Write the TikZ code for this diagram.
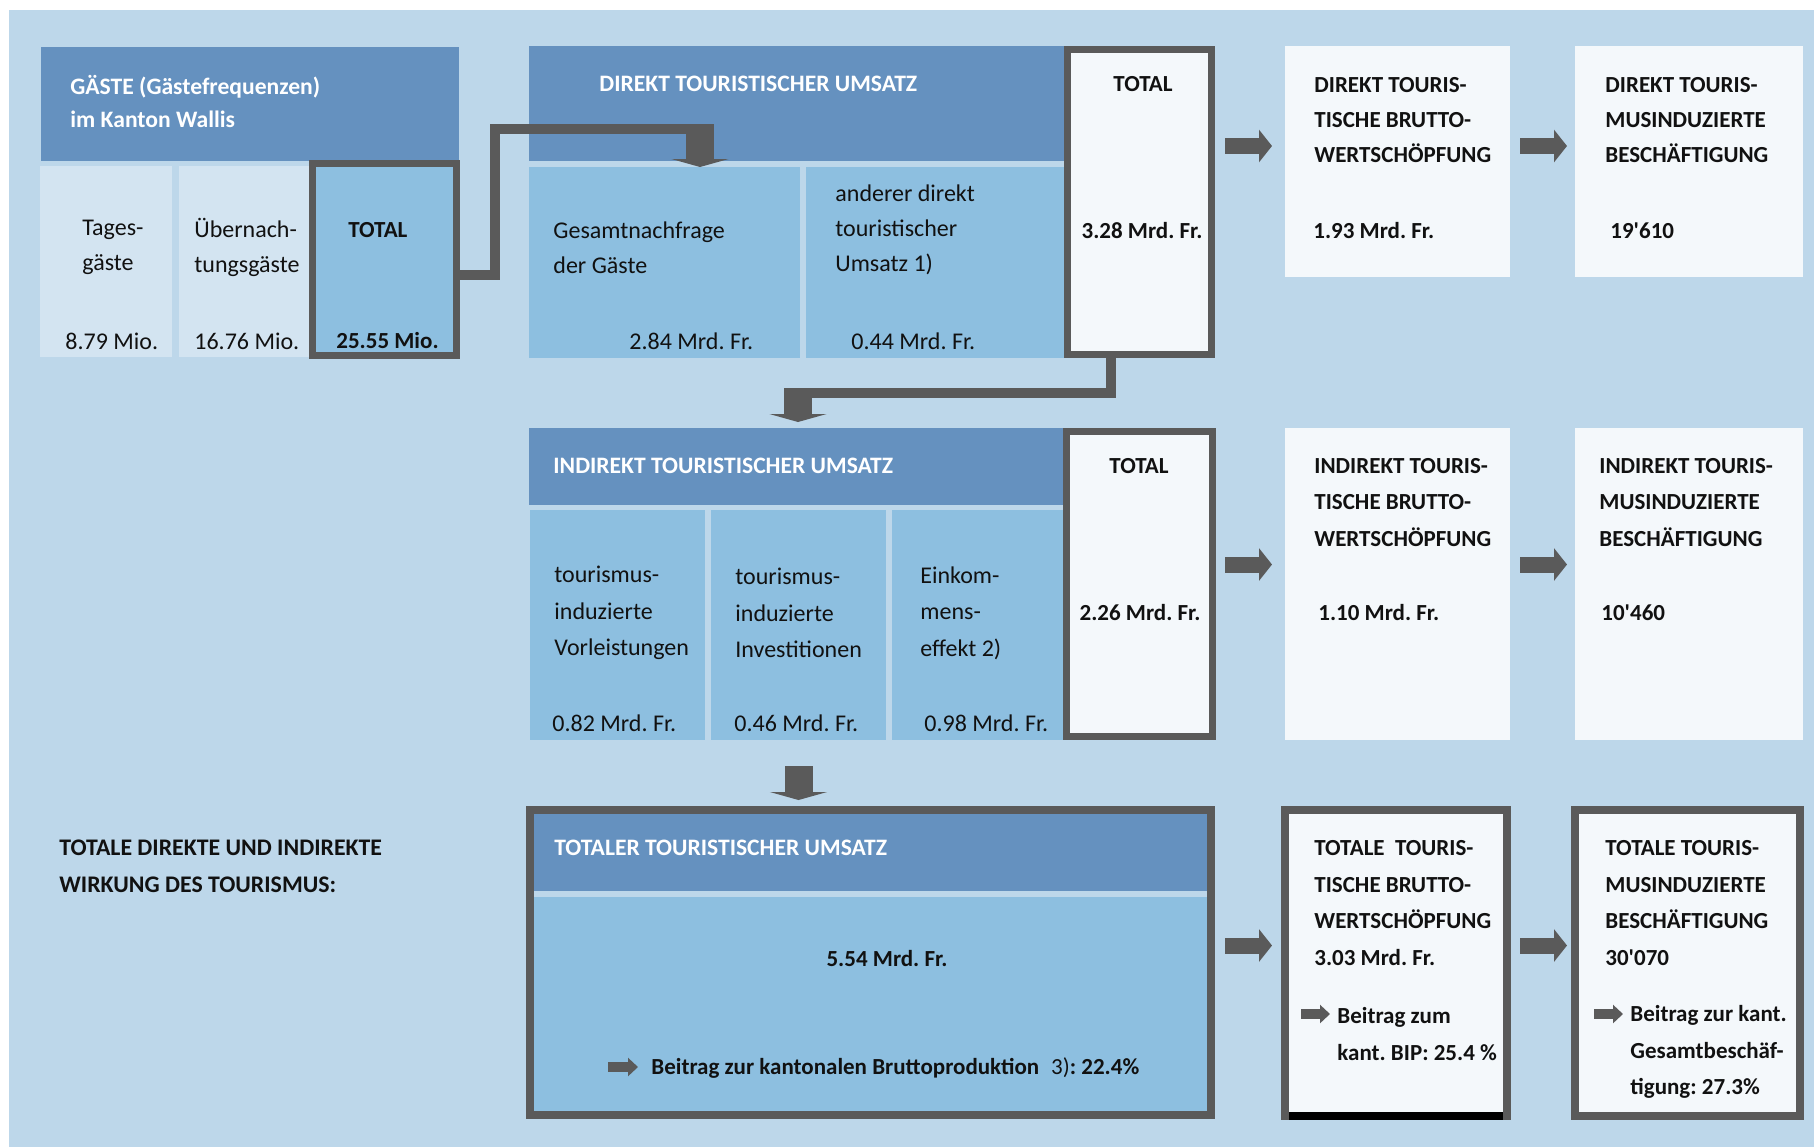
\documentclass[tikz,border=0pt]{standalone}
\usepackage{fontspec}
\setmainfont[Ligatures=TeXOff]{Carlito}
\usetikzlibrary{positioning}
\usetikzlibrary{fit}
\usetikzlibrary{arrows.meta}
\frenchspacing

\definecolor{bgblue}{HTML}{BDD7EA}
\definecolor{headblue}{HTML}{6591BF}
\definecolor{midblue}{HTML}{8DBFE0}
\definecolor{paleblue}{HTML}{D3E4F1}
\definecolor{boxwhite}{HTML}{F4F8FB}
\definecolor{framegray}{HTML}{5A5A5A}
\definecolor{textblack}{HTML}{111111}

\tikzset{
  area/.style={inner sep=0pt, outer sep=0pt},
  header/.style={area, fill=headblue},
  cell/.style={area, fill=midblue},
  palecell/.style={area, fill=paleblue},
  resbox/.style={area, fill=boxwhite},
  totalbox/.style={area, fill=boxwhite, draw=framegray, line width=3.6pt},
  framebox/.style={draw=framegray, line width=4pt},
  txt/.style={inner sep=0pt, anchor=west, align=left, text=textblack,
    font=\fontsize{12}{#1}\selectfont},
  txt/.default=17.5,
  boldtxt/.style={txt, font=\fontsize{11.5}{#1}\selectfont\bfseries},
  boldtxt/.default=17.5,
  headtxt/.style={txt, text=white, font=\fontsize{11.8}{#1}\selectfont\bfseries},
  headtxt/.default=16.5,
  bar/.style={draw=framegray, line width=5pt},
  downarrow/.style={draw=framegray, line width=14pt, -{Triangle[width=28.5pt,length=4pt]}},
  rarrow/.style={draw=framegray, line width=8pt, -{Triangle[width=16pt,length=6.5pt]}},
  smallarrow/.style={draw=framegray, line width=5pt, -{Triangle[width=9pt,length=5pt]}}
}

\begin{document}
\begin{tikzpicture}[x=0.5pt, y=-0.5pt]
  \useasboundingbox (0,0) rectangle (1814,1147);
  \fill[white] (0,0) rectangle (1814,1147);
  \fill[bgblue] (8.7,10) rectangle (1814,1147);

  % gaeste
  \node[header, fit={(41,47) (459,161)}] (ghead) {};
  \node[palecell, fit={(40,166) (172,357)}] (gtag) {};
  \node[palecell, fit={(179,166) (312,357)}] (guebern) {};
  \node[cell, draw=framegray, line width=3.6pt, fit={(312.6,163.6) (456.4,355.4)}] (gtot) {};

  % direkt
  \node[header, fit={(529,46) (1068,161)}] (dhead) {};
  \node[cell, fit={(529,167) (800,358)}] (dnach) {};
  \node[cell, fit={(806,167) (1068,358)}] (dand) {};
  \node[totalbox, fit={(1067.6,49.6) (1211.4,354.4)}] (dtot) {};
  \node[resbox, fit={(1285,46) (1510,277)}] (dbrut) {};
  \node[resbox, fit={(1575,46) (1803,277)}] (dbes) {};

  % indirekt
  \node[header, fit={(529,428) (1068,505)}] (ihead) {};
  \node[cell, fit={(530,510) (705,740)}] (ivor) {};
  \node[cell, fit={(711,510) (886,740)}] (iinv) {};
  \node[cell, fit={(892,510) (1068,740)}] (ieink) {};
  \node[totalbox, fit={(1066.6,431.6) (1212.4,736.4)}] (itot) {};
  \node[resbox, fit={(1285,428) (1510,740)}] (ibrut) {};
  \node[resbox, fit={(1575,428) (1803,740)}] (ibes) {};

  % total
  \node[cell, framebox, fit={(530,810) (1211,1115)}] (ttot) {};
  \node[header, fit={(534,814) (1207,891)}] (thead) {};
  \fill[bgblue] (534,891) rectangle (1207,897);
  \node[resbox, framebox, fit={(1285,810) (1507,1116)}] (tbrut) {};
  \draw[black, line width=4pt] ([xshift=2pt]tbrut.south west) -- ([xshift=-2pt]tbrut.south east);
  \node[resbox, framebox, fit={(1575,810) (1800,1116)}] (tbes) {};

  % texts
  \node[headtxt] (gheadtxt) at (70,101.5) {GÄSTE (Gästefrequenzen)\\im Kanton Wallis};
  \node[txt] (tagtxt) at (82,247.5) {Tages-\\gäste};
  \node[txt] (tagval) at (65,341) {8.79 Mio.};
  \node[txt] (uebtxt) at (194,247.5) {Übernach-\\tungsgäste};
  \node[txt] (uebval) at (194,341) {16.76 Mio.};
  \node[boldtxt] (gtottxt) at (348,230) {TOTAL};
  \node[boldtxt] (gtotval) at (336,341) {25.55 Mio.};

  \node[headtxt] (dheadtxt) at (599,84) {DIREKT TOURISTISCHER UMSATZ};
  \node[txt] (dnachtxt) at (553,247.5) {Gesamtnachfrage\\der Gäste};
  \node[txt] (dnachval) at (629,341) {2.84 Mrd. Fr.};
  \node[txt] (dandtxt) at (835,230) {anderer direkt\\touristischer\\Umsatz 1)};
  \node[txt] (dandval) at (851,341) {0.44 Mrd. Fr.};
  \node[boldtxt, anchor=center] (dtottxt) at (1143,84) {TOTAL};
  \node[boldtxt, anchor=center] (dtotval) at (1142,231) {3.28 Mrd. Fr.};
  \node[boldtxt] (dbruttxt) at (1314,120) {DIREKT TOURIS-\\TISCHE BRUTTO-\\WERTSCHÖPFUNG};
  \node[boldtxt] (dbrutval) at (1313,231) {1.93 Mrd. Fr.};
  \node[boldtxt] (dbestxt) at (1605,120) {DIREKT TOURIS-\\MUSINDUZIERTE\\BESCHÄFTIGUNG};
  \node[boldtxt] (dbesval) at (1610,231) {19'610};

  \node[headtxt] (iheadtxt) at (553,466) {INDIREKT TOURISTISCHER UMSATZ};
  \node[txt=18.25] (ivortxt) at (554,613) {tourismus-\\induzierte\\Vorleistungen};
  \node[txt] (ivorval) at (552,723) {0.82 Mrd. Fr.};
  \node[txt=18.25] (iinvtxt) at (735,613) {tourismus-\\induzierte\\Investitionen};
  \node[txt] (iinvval) at (734,723) {0.46 Mrd. Fr.};
  \node[txt=18.25] (ieinktxt) at (920,613) {Einkom-\\mens-\\effekt 2)};
  \node[txt] (ieinkval) at (924,723) {0.98 Mrd. Fr.};
  \node[boldtxt, anchor=center] (itottxt) at (1139,466) {TOTAL};
  \node[boldtxt, anchor=center] (itotval) at (1140,613) {2.26 Mrd. Fr.};
  \node[boldtxt=18.25] (ibruttxt) at (1314,502.5) {INDIREKT TOURIS-\\TISCHE BRUTTO-\\WERTSCHÖPFUNG};
  \node[boldtxt] (ibrutval) at (1318,613) {1.10 Mrd. Fr.};
  \node[boldtxt=18.25] (ibestxt) at (1599,502.5) {INDIREKT TOURIS-\\MUSINDUZIERTE\\BESCHÄFTIGUNG};
  \node[boldtxt] (ibesval) at (1601,613) {10'460};

  \node[boldtxt=18.5, font=\fontsize{11.9}{18.5}\selectfont\bfseries] (wirkung) at (59,866.5) {TOTALE DIREKTE UND INDIREKTE\\WIRKUNG DES TOURISMUS:};
  \node[headtxt] (theadtxt) at (554,848) {TOTALER TOURISTISCHER UMSATZ};
  \node[boldtxt, anchor=center] (ttotval) at (887,958) {5.54 Mrd. Fr.};
  \node[boldtxt] (tbeitrag) at (651,1068) {Beitrag zur kantonalen Bruttoproduktion\hspace{6pt}\mdseries 3)\bfseries: 22.4\%};
  \node[boldtxt=18.35] (tbruttxt) at (1314,903) {TOTALE\ \ TOURIS-\\TISCHE BRUTTO-\\WERTSCHÖPFUNG\\3.03 Mrd. Fr.};
  \node[boldtxt=18.35] (tbrutbei) at (1337,1034) {Beitrag zum\\kant. BIP: 25.4 \%};
  \node[boldtxt=18.35] (tbestxt) at (1605,903) {TOTALE TOURIS-\\MUSINDUZIERTE\\BESCHÄFTIGUNG\\30'070};
  \node[boldtxt=18.35] (tbesbei) at (1630,1052) {Beitrag zur kant.\\Gesamtbeschäf-\\tigung: 27.3\%};

  % connectors
  \coordinate (k1) at (495,129);
  \coordinate (s1) at (700,124);
  \coordinate (k2) at (1111,392.5);
  \coordinate (s2) at (798,388);
  \draw[bar] (gtot.east |- 0,275) -| (k1) -- (k1 -| s1);
  \draw[downarrow] (s1) -- (s1 |- dnach.north);
  \draw[bar] (dtot.south -| k2) -- (k2) -- (k2 -| s2);
  \draw[downarrow, shorten >=3pt] (s2) -- (s2 |- ihead.north);
  \draw[downarrow, shorten <=13pt, shorten >=5pt] (iinv.south) -- (iinv.south |- ttot.north);

  \coordinate (r1) at (0,146);
  \coordinate (r2) at (0,564.5);
  \coordinate (r3) at (0,945.5);
  \draw[rarrow, shorten <=6.8pt, shorten >=6.5pt] (dtot.east |- r1) -- (dbrut.west |- r1);
  \draw[rarrow, shorten <=5pt, shorten >=4pt] (dbrut.east |- r1) -- (dbes.west |- r1);
  \draw[rarrow, shorten <=6.3pt, shorten >=6.5pt] (itot.east |- r2) -- (ibrut.west |- r2);
  \draw[rarrow, shorten <=5pt, shorten >=4pt] (ibrut.east |- r2) -- (ibes.west |- r2);
  \draw[rarrow, shorten <=7pt, shorten >=6.5pt] (ttot.east |- r3) -- (tbrut.west |- r3);
  \draw[rarrow, shorten <=6.5pt, shorten >=4pt] (tbrut.east |- r3) -- (tbes.west |- r3);

  \coordinate (b1) at (608,1067);
  \coordinate (b2) at (1301,1014);
  \coordinate (b3) at (1594,1014);
  \draw[smallarrow, shorten >=6.5pt] (b1) -- (b1 -| tbeitrag.west);
  \draw[smallarrow, shorten >=3.5pt] (b2) -- (b2 -| tbrutbei.west);
  \draw[smallarrow, shorten >=3.5pt] (b3) -- (b3 -| tbesbei.west);
\end{tikzpicture}
\end{document}
